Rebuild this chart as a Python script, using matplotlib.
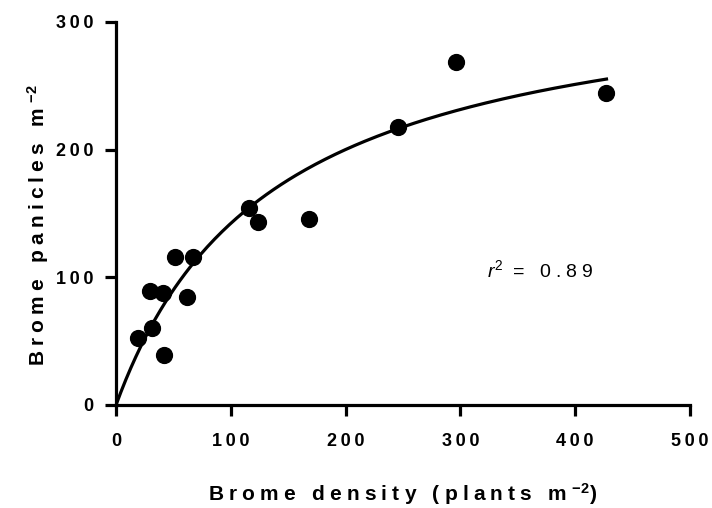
import numpy as np
import matplotlib
matplotlib.use('Agg')
import matplotlib.pyplot as plt
from matplotlib.ticker import FuncFormatter

plt.rcParams['font.family'] = ['Liberation Sans', 'DejaVu Sans']
plt.rcParams['mathtext.fontset'] = 'custom'
plt.rcParams['mathtext.rm'] = 'Liberation Sans'
plt.rcParams['mathtext.it'] = 'Liberation Sans:italic'
plt.rcParams['mathtext.bf'] = 'Liberation Sans:bold'

# brome density (plants m-2) vs panicles m-2
density = [18.9, 29.6, 31.1, 41.3, 42.1, 51.4, 61.6, 66.9, 116, 124, 168.4, 245.5, 296.4, 427.3]
panicles = [52.1, 89.3, 59.9, 87.7, 39.0, 115.9, 84.6, 115.9, 153.9, 143.0, 145.4, 218.0, 268.8, 244.0]

# rectangular hyperbola fit y = vmax*x/(k+x)
vmax = 337.0
k_half = 137.0
r2 = 0.89

xticks = [0, 100, 200, 300, 400, 500]
yticks = [0, 100, 200, 300]

# letter spacing (prism style) via unicode spaces
SP_TICK = '\u2009'
SP_LAB = '\u2005'
SP_R2 = '\u2005'

def tracked(s, gap):
    return gap.join(s)

fig = plt.figure(figsize=(7.12, 5.08), dpi=100)
ax = fig.add_axes([0.163, 0.203, 0.806, 0.754])

xf = np.linspace(0, max(density), 200)
ax.plot(xf, vmax * xf / (k_half + xf), color='black', lw=2.3, zorder=2)
ax.scatter(density, panicles, s=130, color='black', zorder=3, clip_on=False)

ax.set_xlim(0, 500)
ax.set_ylim(0, 300)
ax.set_xticks(xticks)
ax.set_yticks(yticks)
fmt = FuncFormatter(lambda v, p: tracked('%d' % v, SP_TICK))
ax.xaxis.set_major_formatter(fmt)
ax.yaxis.set_major_formatter(fmt)
for s in ['top', 'right']:
    ax.spines[s].set_visible(False)
for s in ['left', 'bottom']:
    ax.spines[s].set_linewidth(2.3)
ax.tick_params(direction='out', length=8, width=2.3, labelsize=13)
ax.tick_params(axis='x', pad=12.5)
ax.tick_params(axis='y', pad=8)
for lab in ax.get_xticklabels() + ax.get_yticklabels():
    lab.set_fontweight('bold')

xlab = tracked('Brome density (plants m', SP_LAB) + SP_LAB + r'$^{\mathbf{-2}}$' + ')'
ylab = tracked('Brome panicles m', SP_LAB) + SP_LAB + r'$^{\mathbf{-2}}$'
ax.set_xlabel(xlab, fontsize=15, fontweight='bold', va='baseline')
ax.xaxis.set_label_coords(0.5, -0.251)
ax.set_ylabel(ylab, fontsize=15, fontweight='bold', va='baseline')
ax.yaxis.set_label_coords(-0.124, 0.47)

ax.text(323.5, 100, r'$r^2$' + ' ' + SP_R2 + tracked('= %.2f' % r2, SP_R2), fontsize=14,
        ha='left', va='baseline')

fig.savefig('out.png', dpi=100)
